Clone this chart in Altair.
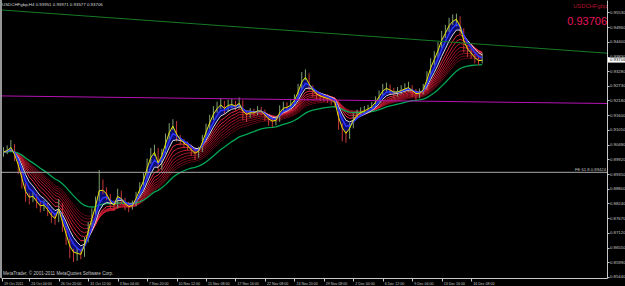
import altair as alt
import pandas as pd

# ---------------- data ----------------
symbol_title = "USDCHFgbp,H4"
symbol_name = "USDCHFgbp"
last_ohlc = [0.93951, 0.93971, 0.93577, 0.93706]
copyright_text = "MetaTrader, © 2001-2011 MetaQuotes Software Corp."

first_open = 0.9010
close = [
    0.9020, 0.9028, 0.9043, 0.8997, 0.8951, 0.8894, 0.8844, 0.8837, 0.8852, 0.8822,
    0.8806, 0.8818, 0.8791, 0.8768, 0.8760, 0.8818, 0.8730, 0.8684, 0.8638, 0.8627,
    0.8631, 0.8627, 0.8684, 0.8741, 0.8791, 0.8837, 0.8902, 0.8875, 0.8852, 0.8818,
    0.8810, 0.8867, 0.8837, 0.8814, 0.8806, 0.8818, 0.8856, 0.8894, 0.8925, 0.8982,
    0.9020, 0.9028, 0.8959, 0.9020, 0.9073, 0.9115, 0.9131, 0.9073, 0.9058, 0.9047,
    0.9039, 0.9020, 0.9009, 0.9028, 0.9073, 0.9115, 0.9150, 0.9180, 0.9196, 0.9207,
    0.9180, 0.9203, 0.9203, 0.9192, 0.9211, 0.9161, 0.9157, 0.9173, 0.9169, 0.9180,
    0.9176, 0.9154, 0.9138, 0.9134, 0.9142, 0.9184, 0.9196, 0.9192, 0.9203, 0.9226,
    0.9264, 0.9306, 0.9314, 0.9268, 0.9245, 0.9234, 0.9230, 0.9226, 0.9222, 0.9215,
    0.9207, 0.9123, 0.9092, 0.9081, 0.9119, 0.9157, 0.9169, 0.9176, 0.9180, 0.9188,
    0.9196, 0.9218, 0.9241, 0.9264, 0.9268, 0.9253, 0.9245, 0.9249, 0.9257, 0.9264,
    0.9268, 0.9249, 0.9237, 0.9245, 0.9264, 0.9314, 0.9363, 0.9390, 0.9424, 0.9466,
    0.9486, 0.9516, 0.9527, 0.9531, 0.9486, 0.9417, 0.9398, 0.9390, 0.9371, 0.9363,
    0.93706,
]
high = [
    0.9038, 0.9045, 0.9066, 0.9050, 0.9005, 0.8960, 0.8900, 0.8862, 0.8870, 0.8860,
    0.8830, 0.8835, 0.8825, 0.8800, 0.8780, 0.8840, 0.8825, 0.8738, 0.8690, 0.8650,
    0.8655, 0.8648, 0.8695, 0.8752, 0.8805, 0.8850, 0.8951, 0.8915, 0.8885, 0.8860,
    0.8835, 0.8880, 0.8872, 0.8845, 0.8830, 0.8835, 0.8868, 0.8905, 0.8940, 0.8995,
    0.9035, 0.9048, 0.9035, 0.9032, 0.9090, 0.9130, 0.9145, 0.9138, 0.9085, 0.9070,
    0.9060, 0.9048, 0.9030, 0.9040, 0.9085, 0.9128, 0.9162, 0.9195, 0.9212, 0.9225,
    0.9215, 0.9220, 0.9222, 0.9215, 0.9228, 0.9218, 0.9175, 0.9188, 0.9185, 0.9195,
    0.9192, 0.9182, 0.9160, 0.9150, 0.9158, 0.9198, 0.9212, 0.9210, 0.9218, 0.9240,
    0.9280, 0.9325, 0.9335, 0.9320, 0.9275, 0.9255, 0.9248, 0.9242, 0.9240, 0.9232,
    0.9225, 0.9212, 0.9130, 0.9100, 0.9130, 0.9168, 0.9182, 0.9190, 0.9195, 0.9200,
    0.9210, 0.9232, 0.9255, 0.9280, 0.9285, 0.9278, 0.9265, 0.9268, 0.9275, 0.9282,
    0.9288, 0.9275, 0.9260, 0.9262, 0.9280, 0.9328, 0.9378, 0.9405, 0.9440, 0.9482,
    0.9505, 0.9532, 0.9545, 0.9548, 0.9538, 0.9492, 0.9428, 0.9412, 0.9395, 0.9385,
    0.93971,
]
low = [
    0.9002, 0.9012, 0.9020, 0.8985, 0.8935, 0.8880, 0.8830, 0.8820, 0.8828, 0.8805,
    0.8790, 0.8795, 0.8775, 0.8750, 0.8742, 0.8752, 0.8715, 0.8665, 0.8615, 0.8600,
    0.8605, 0.8610, 0.8620, 0.8675, 0.8735, 0.8780, 0.8830, 0.8860, 0.8838, 0.8802,
    0.8795, 0.8805, 0.8822, 0.8798, 0.8790, 0.8800, 0.8812, 0.8850, 0.8885, 0.8918,
    0.8975, 0.9005, 0.8945, 0.8952, 0.9015, 0.9065, 0.9105, 0.9060, 0.9045, 0.9035,
    0.9025, 0.9005, 0.8990, 0.8998, 0.9020, 0.9065, 0.9108, 0.9142, 0.9170, 0.9185,
    0.9165, 0.9172, 0.9188, 0.9178, 0.9185, 0.9140, 0.9135, 0.9150, 0.9155, 0.9160,
    0.9160, 0.9138, 0.9120, 0.9115, 0.9122, 0.9135, 0.9175, 0.9178, 0.9185, 0.9195,
    0.9220, 0.9255, 0.9295, 0.9255, 0.9230, 0.9220, 0.9215, 0.9212, 0.9208, 0.9200,
    0.9192, 0.9105, 0.9060, 0.9055, 0.9070, 0.9110, 0.9148, 0.9160, 0.9165, 0.9170,
    0.9178, 0.9188, 0.9210, 0.9235, 0.9250, 0.9238, 0.9225, 0.9232, 0.9240, 0.9248,
    0.9250, 0.9230, 0.9218, 0.9225, 0.9240, 0.9258, 0.9305, 0.9352, 0.9380, 0.9418,
    0.9455, 0.9478, 0.9505, 0.9500, 0.9470, 0.9400, 0.9382, 0.9375, 0.9358, 0.9352,
    0.93577,
]

x_ticks = [-0.4, 7, 15, 23, 31, 39, 47, 55, 63, 71, 79, 87, 95, 103, 111, 119, 127]
x_labels = ["19 Oct 2011", "24 Oct 04:00", "26 Oct 20:00", "31 Oct 12:00", "3 Nov 04:00",
            "7 Nov 20:00", "10 Nov 12:00", "15 Nov 08:00", "17 Nov 16:00", "22 Nov 08:00",
            "24 Nov 20:00", "29 Nov 08:00", "2 Dec 00:00", "6 Dec 12:00", "9 Dec 04:00",
            "13 Dec 16:00", "16 Dec 08:00"]
y_ticks = [0.95530, 0.94960, 0.94400, 0.93830, 0.93280, 0.92730, 0.92180, 0.91600,
           0.91050, 0.90480, 0.89920, 0.89350, 0.88800, 0.88240, 0.87670, 0.87120,
           0.86550, 0.85990, 0.85440]

trend_u = [-0.68, 163.9]
green_trend = [0.9562, 0.9397]
magenta_trend = [0.9234, 0.9205]
fe_level = 0.89424
fe_label = "FE 61.8 0.89424"

# indicator periods (in bars of this series)
fast_spans = {"yellow": 2, "blue": 4, "white": 6}
ribbon_spans = [8, 10, 12, 14, 16, 18, 20, 22]
green_span = 30

# ---------------- table ----------------
opens = [first_open] + close[:-1]
df = pd.DataFrame({"u": list(range(len(close))), "open": opens, "high": high,
                   "low": low, "close": close})
df["up"] = df["close"] >= df["open"]
s = pd.Series(close)
for k, sp in fast_spans.items():
    df[k] = s.ewm(span=sp, adjust=False).mean()
ribbon_names = []
for sp in ribbon_spans:
    nm = f"r{sp}"
    ribbon_names.append(nm)
    df[nm] = s.ewm(span=sp, adjust=False).mean()
df["green"] = s.ewm(span=green_span, adjust=False).mean()

lines_df = pd.DataFrame({"u": trend_u, "g": green_trend, "m": magenta_trend,
                         "fe": [fe_level, fe_level]})
last_df = pd.DataFrame({"p": [last_ohlc[3]], "lo": [last_ohlc[3] - 0.00095],
                        "hi": [last_ohlc[3] + 0.00095],
                        "t": [f"{last_ohlc[3]:.5f}"]})

W, H = 606, 278
FONT = "Liberation Sans"
AX = "#c8c8c8"

xs = alt.Scale(domain=[-0.68, 163.9], nice=False, zero=False)
ys = alt.Scale(domain=[0.85391, 0.96], nice=False, zero=False)

label_expr = "[" + ",".join("'%s'" % l for l in x_labels) + \
    "][datum.value < 0 ? 0 : round((datum.value + 1) / 8)]"

x_axis = alt.Axis(values=x_ticks, labelExpr=label_expr, labelAlign="left",
                  labelBaseline="top", labelPadding=0.5, labelOffset=1.5,
                  labelFontSize=3.6, labelFont=FONT, labelColor=AX, labelFlush=False,
                  labelOverlap=False, tickSize=3, tickColor=AX, domainColor=AX,
                  grid=False, title=None)
y_axis = alt.Axis(orient="right", values=y_ticks, format=".5f", labelFontSize=4.3,
                  labelFont=FONT, labelColor=AX, labelPadding=0.5, tickSize=2,
                  tickColor=AX, domainColor=AX, labelOverlap=False, grid=False,
                  title=None, labelFlush=False)


def X(f="u"):
    return alt.X(f"{f}:Q", scale=xs, axis=None)


def Y(f):
    return alt.Y(f"{f}:Q", scale=ys, axis=None)


base = alt.Chart(df)

# axis carrier
axes = base.mark_point(opacity=0).encode(
    x=alt.X("u:Q", scale=xs, axis=x_axis),
    y=alt.Y("close:Q", scale=ys, axis=y_axis))

fill = base.mark_area(color="#0c0c72", opacity=1).encode(
    x=X(), y=Y("yellow"), y2="white:Q")

ribbon_colors = ["#ff3050", "#e82440", "#d01c36", "#b8162e", "#a21226", "#8e0f20",
                 "#7c0c1b", "#6a0a16"]
ribbon = [base.mark_line(color=c, strokeWidth=0.9).encode(x=X(), y=Y(n))
          for n, c in zip(reversed(ribbon_names), reversed(ribbon_colors))]

green_ma = base.mark_line(color="#00a855", strokeWidth=1.3).encode(x=X(), y=Y("green"))

wick_up = base.transform_filter("datum.up").mark_rule(color="#7fa070", strokeWidth=1).encode(
    x=X(), y=Y("low"), y2="high:Q")
wick_dn = base.transform_filter("!datum.up").mark_rule(color="#c83838", strokeWidth=1).encode(
    x=X(), y=Y("low"), y2="high:Q")

white_ma = base.mark_line(color="#d8d8d8", strokeWidth=1).encode(x=X(), y=Y("white"))
blue_ma = base.mark_line(color="#2a36ff", strokeWidth=1.5).encode(x=X(), y=Y("blue"))
yellow_ma = base.mark_line(color="#e6e600", strokeWidth=1).encode(x=X(), y=Y("yellow"))

lb = alt.Chart(lines_df)
g_line = lb.mark_line(color="#157a25", strokeWidth=1, clip=True).encode(x=X(), y=Y("g"))
m_line = lb.mark_line(color="#b414b4", strokeWidth=1, clip=True).encode(x=X(), y=Y("m"))
fe_line = lb.mark_line(color="#a8a8a8", strokeWidth=1, clip=True).encode(x=X(), y=Y("fe"))
fe_text = alt.Chart(pd.DataFrame({"p": [fe_level], "t": [fe_label]})).mark_text(
    align="right", baseline="bottom", dy=-0.5, fontSize=4.2, font=FONT, color="#c0c0c0").encode(
    x=alt.value(W - 1), y=Y("p"), text="t:N")

left_border = alt.Chart(lines_df).mark_rule(color=AX).encode(
    x=alt.value(0), y=alt.value(0), y2=alt.value(H))

head_str = symbol_title + "  " + " ".join(f"{v:.5f}" for v in last_ohlc)
head = alt.Chart(last_df).mark_text(align="left", baseline="middle", fontSize=4.4,
                                    font=FONT, color="#d8d8d8").encode(
    x=alt.value(1), y=alt.value(5), text=alt.value(head_str))
sym = alt.Chart(last_df).mark_text(align="right", baseline="middle", fontSize=5.8,
                                   font=FONT, color="#b0142e").encode(
    x=alt.value(W), y=alt.value(5.5), text=alt.value(symbol_name))
big = alt.Chart(last_df).mark_text(align="right", baseline="middle", fontSize=11,
                                   font=FONT, color="#e8145a").encode(
    x=alt.value(W), y=alt.value(21.5), text="t:N")
copy = alt.Chart(last_df).mark_text(align="left", baseline="middle", fontSize=4.6,
                                    font=FONT, color="#c8c8c8").encode(
    x=alt.value(2), y=alt.value(273.5), text=alt.value(copyright_text))
price_box = alt.Chart(last_df).mark_rect(color="#ffffff").encode(
    x=alt.value(W + 1), x2=alt.value(W + 19), y=Y("lo"), y2="hi:Q")
price_txt = alt.Chart(last_df).mark_text(align="left", baseline="middle", fontSize=4.3,
                                         font=FONT, color="#000000").encode(
    x=alt.value(W + 3), y=Y("p"), text="t:N")

chart = alt.layer(
    axes, fill, *ribbon, green_ma, wick_up, wick_dn, white_ma, blue_ma, yellow_ma,
    g_line, m_line, fe_line, fe_text, left_border, head, sym, big, copy,
    price_box, price_txt
).resolve_axis(
    x="independent", y="independent"
).properties(
    width=W, height=H, autosize="none",
    padding={"left": 1, "top": 0, "right": 18, "bottom": 8},
).configure(background="#000000").configure_view(stroke=None)

chart.save("out.html", embed_options={"renderer": "svg", "actions": False})
